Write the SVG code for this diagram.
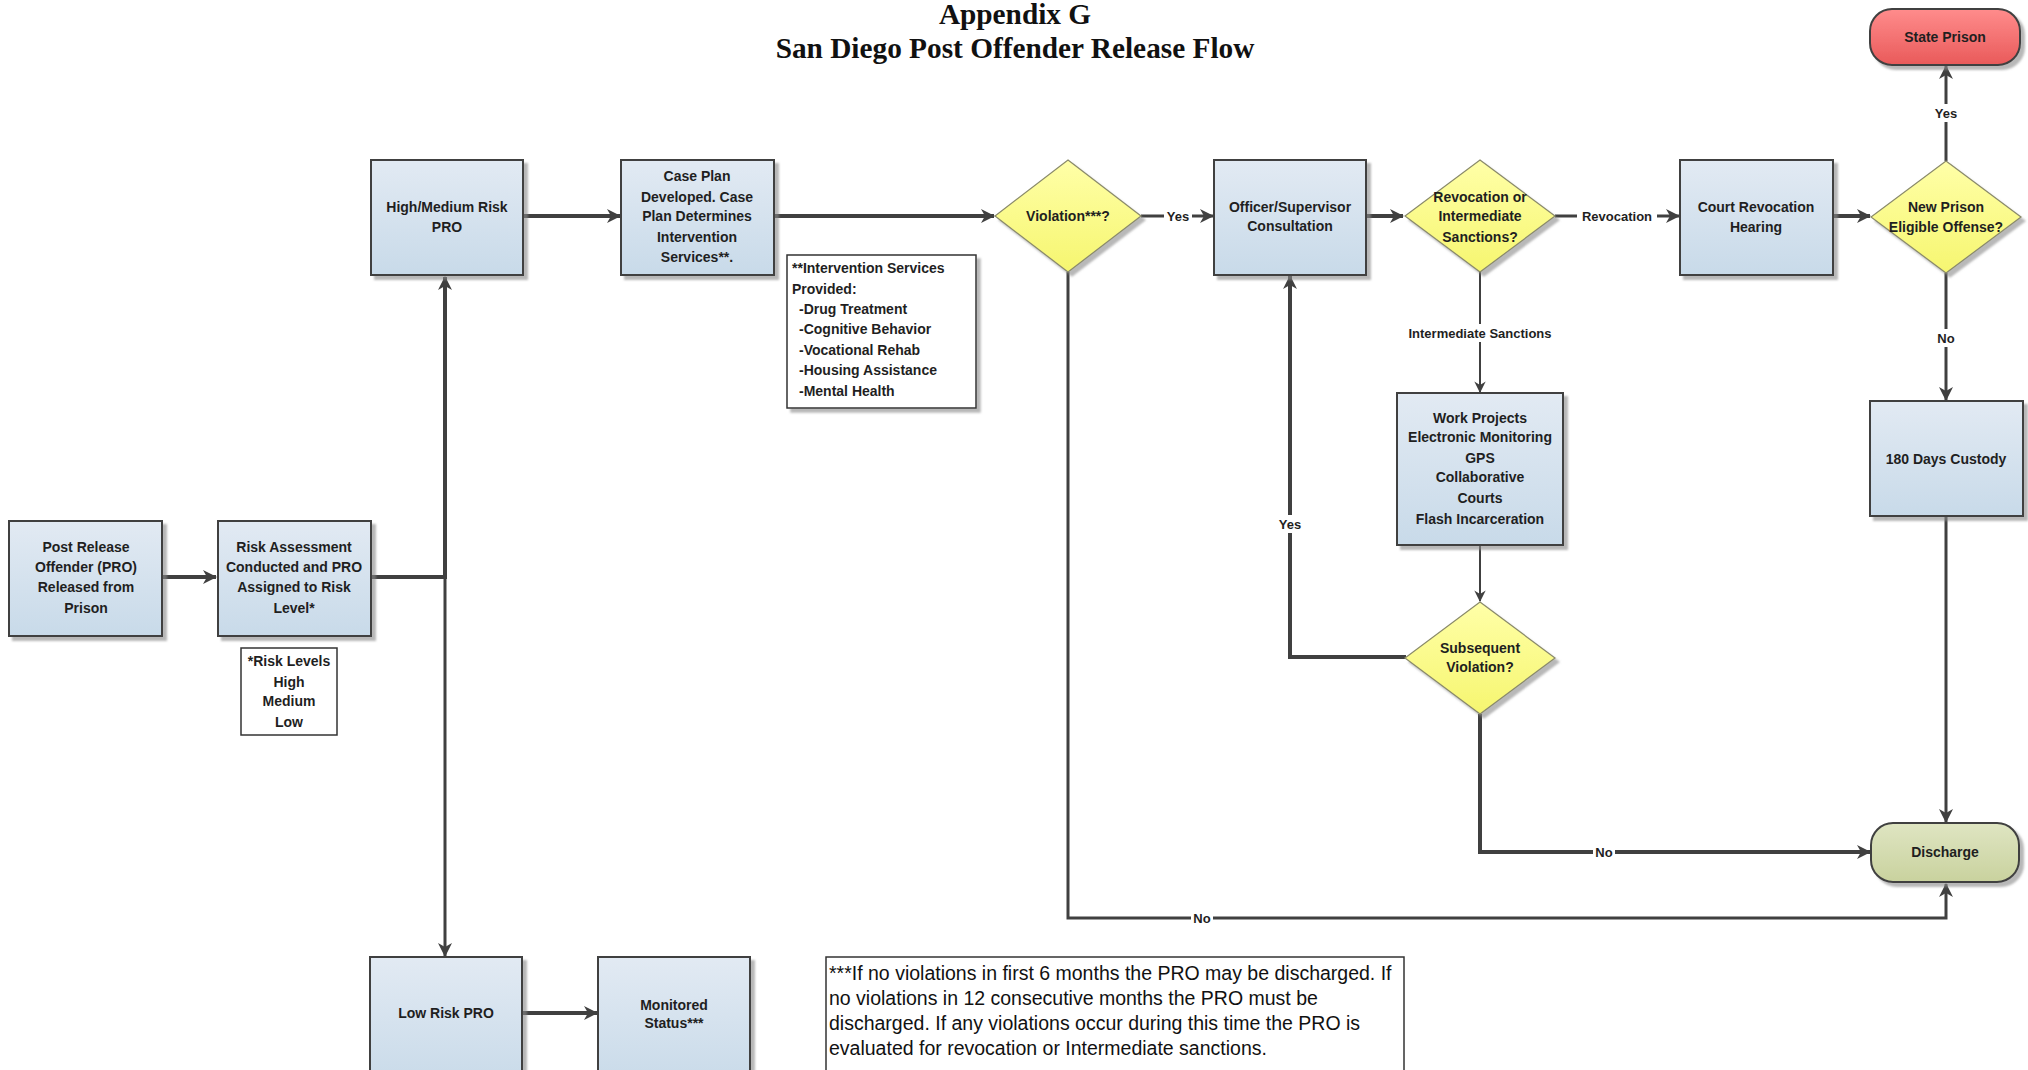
<svg xmlns="http://www.w3.org/2000/svg" width="2028" height="1070" viewBox="0 0 2028 1070">
<style>
.box{fill:url(#boxg);stroke:#404040;stroke-width:2}
.dia{fill:url(#diag);stroke:#8a8a6a;stroke-width:1.2}
.note{fill:#fff;stroke:#333;stroke-width:1.5}
.t{font-family:"Liberation Sans",Arial,sans-serif;font-size:14px;font-weight:bold;fill:#1f1f1f;text-anchor:middle;dominant-baseline:central}
.tl{font-family:"Liberation Sans",Arial,sans-serif;font-size:14px;font-weight:bold;fill:#1f1f1f;dominant-baseline:central}
.nt{font-family:"Liberation Sans",Arial,sans-serif;font-size:19.5px;fill:#111;dominant-baseline:central}
.lbl{font-family:"Liberation Sans",Arial,sans-serif;font-size:13px;font-weight:bold;fill:#1f1f1f;text-anchor:middle;dominant-baseline:central}
.title{font-family:"Liberation Serif","Times New Roman",serif;font-size:29.3px;font-weight:bold;fill:#111;text-anchor:middle}
.c{fill:none;stroke:#404040;stroke-width:4}
.cm{fill:none;stroke:#404040;stroke-width:3}
.cs{fill:none;stroke:#404040;stroke-width:2}
.bg{fill:#fff}
</style>
<defs>
<linearGradient id="boxg" x1="0" y1="0" x2="0" y2="1"><stop offset="0" stop-color="#e2eaf3"/><stop offset="1" stop-color="#c8dae9"/></linearGradient>
<linearGradient id="diag" x1="0" y1="0" x2="0" y2="1"><stop offset="0" stop-color="#ffffa8"/><stop offset="1" stop-color="#f6f670"/></linearGradient>
<linearGradient id="redg" x1="0" y1="0" x2="0" y2="1"><stop offset="0" stop-color="#ff8c8c"/><stop offset="1" stop-color="#e95a5a"/></linearGradient>
<linearGradient id="grng" x1="0" y1="0" x2="0" y2="1"><stop offset="0" stop-color="#dfe5c2"/><stop offset="1" stop-color="#c9d29e"/></linearGradient>
<filter id="sh" x="-10%" y="-10%" width="130%" height="130%"><feDropShadow dx="4" dy="4" stdDeviation="1.2" flood-color="#888" flood-opacity="0.6"/></filter>
<marker id="ah" viewBox="-14 -8 16 16" refX="0" refY="0" markerWidth="16" markerHeight="16" markerUnits="userSpaceOnUse" orient="auto"><path d="M1,0 L-13,-7 L-9,0 L-13,7 Z" fill="#404040"/></marker>
<marker id="ahs" viewBox="-14 -8 16 16" refX="0" refY="0" markerWidth="14" markerHeight="14" markerUnits="userSpaceOnUse" orient="auto"><path d="M1,0 L-12,-6.5 L-8,0 L-12,6.5 Z" fill="#404040"/></marker>
</defs>

<g id="title">
<text class="title" x="1015" y="24">Appendix G</text>
<text class="title" x="1015" y="58">San Diego Post Offender Release Flow</text>
</g>

<g id="connectors">
<path class="c" d="M162,577 H216" marker-end="url(#ah)"/>
<path class="c" d="M371,577 H445"/>
<path class="c" d="M445,579 V277" marker-end="url(#ah)"/>
<path class="cm" d="M445,577 V956" marker-end="url(#ah)"/>
<path class="c" d="M522,216 H620" marker-end="url(#ah)"/>
<path class="c" d="M774,216 H994" marker-end="url(#ah)"/>
<path class="cm" d="M1141,216 H1213" marker-end="url(#ah)"/>
<path class="c" d="M1366,216 H1403" marker-end="url(#ah)"/>
<path class="cm" d="M1555,216 H1679" marker-end="url(#ah)"/>
<path class="c" d="M1833,216 H1870" marker-end="url(#ah)"/>
<path class="cm" d="M1946,161 V66" marker-end="url(#ah)"/>
<path class="cm" d="M1946,273 V400" marker-end="url(#ah)"/>
<path class="cm" d="M1946,516 V822" marker-end="url(#ah)"/>
<path class="cs" d="M1480,272 V392" marker-end="url(#ahs)"/>
<path class="cs" d="M1480,545 V601" marker-end="url(#ahs)"/>
<path class="c" d="M1406,657 H1290 V276" marker-end="url(#ah)"/>
<path class="c" d="M1480,714 V852 H1870" marker-end="url(#ah)"/>
<path class="cm" d="M1068,272 V918 H1946 V884" marker-end="url(#ah)"/>
<path class="c" d="M522,1013 H597" marker-end="url(#ah)"/>
<rect class="bg" x="1164" y="207" width="28" height="18"/><text class="lbl" x="1178" y="216">Yes</text>
<rect class="bg" x="1577" y="207" width="80" height="18"/><text class="lbl" x="1617" y="216">Revocation</text>
<rect class="bg" x="1932" y="104" width="28" height="18"/><text class="lbl" x="1946" y="113">Yes</text>
<rect class="bg" x="1934" y="329" width="24" height="18"/><text class="lbl" x="1946" y="338">No</text>
<rect class="bg" x="1398" y="324" width="164" height="18"/><text class="lbl" x="1480" y="333">Intermediate Sanctions</text>
<rect class="bg" x="1276" y="515" width="28" height="18"/><text class="lbl" x="1290" y="524">Yes</text>
<rect class="bg" x="1593" y="843" width="22" height="18"/><text class="lbl" x="1604" y="852">No</text>
<rect class="bg" x="1191" y="909" width="22" height="18"/><text class="lbl" x="1202" y="918">No</text>
</g>

<g id="post-release">
<rect class="box" filter="url(#sh)" x="9" y="521" width="153" height="115"/>
<text class="t" x="86" y="547">Post Release</text>
<text class="t" x="86" y="567">Offender (PRO)</text>
<text class="t" x="86" y="587">Released from</text>
<text class="t" x="86" y="608">Prison</text>
</g>

<g id="risk-assessment">
<rect class="box" filter="url(#sh)" x="218" y="521" width="153" height="115"/>
<text class="t" x="294" y="547">Risk Assessment</text>
<text class="t" x="294" y="567">Conducted and PRO</text>
<text class="t" x="294" y="587">Assigned to Risk</text>
<text class="t" x="294" y="608">Level*</text>
</g>

<g id="risk-levels">
<rect class="note" x="241" y="648" width="96" height="87"/>
<text class="t" x="289" y="661">*Risk Levels</text>
<text class="t" x="289" y="682">High</text>
<text class="t" x="289" y="701">Medium</text>
<text class="t" x="289" y="722">Low</text>
</g>

<g id="high-medium">
<rect class="box" filter="url(#sh)" x="371" y="160" width="152" height="115"/>
<text class="t" x="447" y="207">High/Medium Risk</text>
<text class="t" x="447" y="227">PRO</text>
</g>

<g id="case-plan">
<rect class="box" filter="url(#sh)" x="621" y="160" width="153" height="115"/>
<text class="t" x="697" y="176">Case Plan</text>
<text class="t" x="697" y="197">Developed. Case</text>
<text class="t" x="697" y="216">Plan Determines</text>
<text class="t" x="697" y="237">Intervention</text>
<text class="t" x="697" y="257">Services**.</text>
</g>

<g id="intervention-services">
<rect class="note" filter="url(#sh)" x="787" y="255" width="189" height="153"/>
<text class="tl" x="792" y="268">**Intervention Services</text>
<text class="tl" x="792" y="289">Provided:</text>
<text class="tl" x="799" y="309">-Drug Treatment</text>
<text class="tl" x="799" y="329">-Cognitive Behavior</text>
<text class="tl" x="799" y="350">-Vocational Rehab</text>
<text class="tl" x="799" y="370">-Housing Assistance</text>
<text class="tl" x="799" y="391">-Mental Health</text>
</g>

<g id="violation">
<polygon class="dia" filter="url(#sh)" points="1068,160 1141,216 1068,272 995,216"/>
<text class="t" x="1068" y="216">Violation***?</text>
</g>

<g id="officer">
<rect class="box" filter="url(#sh)" x="1214" y="160" width="152" height="115"/>
<text class="t" x="1290" y="207">Officer/Supervisor</text>
<text class="t" x="1290" y="226">Consultation</text>
</g>

<g id="revocation-decision">
<polygon class="dia" filter="url(#sh)" points="1480,160 1555,216 1480,272 1405,216"/>
<text class="t" x="1480" y="197">Revocation or</text>
<text class="t" x="1480" y="216">Intermediate</text>
<text class="t" x="1480" y="237">Sanctions?</text>
</g>

<g id="court-hearing">
<rect class="box" filter="url(#sh)" x="1680" y="160" width="153" height="115"/>
<text class="t" x="1756" y="207">Court Revocation</text>
<text class="t" x="1756" y="227">Hearing</text>
</g>

<g id="new-prison">
<polygon class="dia" filter="url(#sh)" points="1946,161 2021,217 1946,273 1871,217"/>
<text class="t" x="1946" y="207">New Prison</text>
<text class="t" x="1946" y="227">Eligible Offense?</text>
</g>

<g id="state-prison">
<rect filter="url(#sh)" x="1870" y="9" width="150" height="56" rx="22" ry="22" fill="url(#redg)" stroke="#404040" stroke-width="2"/>
<text class="t" x="1945" y="37">State Prison</text>
</g>

<g id="custody">
<rect class="box" filter="url(#sh)" x="1870" y="401" width="153" height="115"/>
<text class="t" x="1946" y="459">180 Days Custody</text>
</g>

<g id="sanctions">
<rect class="box" filter="url(#sh)" x="1397" y="393" width="166" height="152"/>
<text class="t" x="1480" y="418">Work Projects</text>
<text class="t" x="1480" y="437">Electronic Monitoring</text>
<text class="t" x="1480" y="458">GPS</text>
<text class="t" x="1480" y="477">Collaborative</text>
<text class="t" x="1480" y="498">Courts</text>
<text class="t" x="1480" y="519">Flash Incarceration</text>
</g>

<g id="subsequent-violation">
<polygon class="dia" filter="url(#sh)" points="1480,602 1555,658 1480,714 1405,658"/>
<text class="t" x="1480" y="648">Subsequent</text>
<text class="t" x="1480" y="667">Violation?</text>
</g>

<g id="discharge">
<rect filter="url(#sh)" x="1871" y="823" width="148" height="59" rx="22" ry="22" fill="url(#grng)" stroke="#404040" stroke-width="2"/>
<text class="t" x="1945" y="852">Discharge</text>
</g>

<g id="low-risk">
<rect class="box" filter="url(#sh)" x="370" y="957" width="152" height="130"/>
<text class="t" x="446" y="1013">Low Risk PRO</text>
</g>

<g id="monitored">
<rect class="box" filter="url(#sh)" x="598" y="957" width="152" height="130"/>
<text class="t" x="674" y="1005">Monitored</text>
<text class="t" x="674" y="1023">Status***</text>
</g>

<g id="footnote">
<rect class="note" x="826" y="957" width="578" height="130"/>
<text class="nt" x="829" y="973">***If no violations in first 6 months the PRO may be discharged. If</text>
<text class="nt" x="829" y="998">no violations in 12 consecutive months the PRO must be</text>
<text class="nt" x="829" y="1023">discharged. If any violations occur during this time the PRO is</text>
<text class="nt" x="829" y="1048">evaluated for revocation or Intermediate sanctions.</text>
</g>
</svg>
